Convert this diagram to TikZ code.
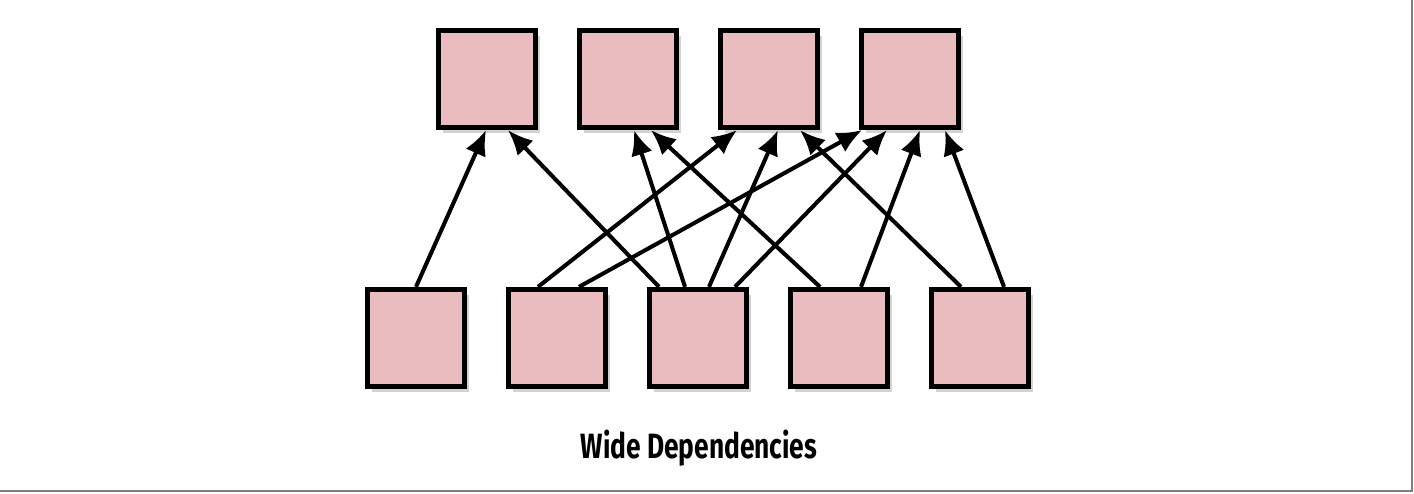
\documentclass[tikz,border=0pt]{standalone}
\usepackage{fontspec}
\newfontfamily\captionfont[FakeStretch=0.75]{Fira Sans}
\usetikzlibrary{arrows.meta,positioning,shadows}
\definecolor{partpink}{HTML}{EBBCBF}
\definecolor{framegray}{HTML}{808080}

\begin{document}
\begin{tikzpicture}
  [node distance=2.82cm,on grid,>={Latex[length=5mm,width=4.4mm]},
  partition/.style={draw=black,line width=2.7pt,fill=partpink,minimum size=1.95cm,
    drop shadow={shadow xshift=0.9mm,shadow yshift=-1.1mm,opacity=0.35}},
  dependency/.style={->,line width=2.3pt}]
  \useasboundingbox (0,0) rectangle (28.28,-9.88);
  % parent partitions
  \node[partition] (t1) at (9.74,-1.58) {};
  \node[partition] (t2) [right=of t1] {};
  \node[partition] (t3) [right=of t2] {};
  \node[partition] (t4) [right=of t3] {};
  % child partitions
  \node[partition] (b1) [below left=5.18cm and 1.42cm of t1] {};
  \node[partition] (b2) [right=of b1] {};
  \node[partition] (b3) [right=of b2] {};
  \node[partition] (b4) [right=of b3] {};
  \node[partition] (b5) [right=of b4] {};
  % wide dependencies
  \draw[dependency] (b1.north) -- ([xshift=-0.02cm]t1.south);
  \draw[dependency] ([xshift=-0.78cm]b3.north) -- ([xshift=0.42cm]t1.south);
  \draw[dependency] ([xshift=-0.26cm]b3.north) -- ([xshift=0.12cm]t2.south);
  \draw[dependency] ([xshift=-0.38cm]b4.north) -- ([xshift=0.46cm]t2.south);
  \draw[dependency] ([xshift=-0.38cm]b2.north) -- ([xshift=-0.64cm]t3.south);
  \draw[dependency] ([xshift=0.22cm]b3.north) -- ([xshift=0.18cm]t3.south);
  \draw[dependency] ([xshift=-0.38cm]b5.north) -- ([xshift=0.62cm]t3.south);
  \draw[dependency] ([xshift=0.44cm]b2.north) -- ([xshift=-0.96cm]t4.south);
  \draw[dependency] ([xshift=0.74cm]b3.north) -- ([xshift=-0.46cm]t4.south);
  \draw[dependency] ([xshift=0.44cm]b4.north) -- ([xshift=0.2cm]t4.south);
  \draw[dependency] ([xshift=0.48cm]b5.north) -- ([xshift=0.7cm]t4.south);
  \node (title) [anchor=base,font=\captionfont\bfseries\fontsize{20}{24}\selectfont]
    at (13.98,-9.18) {Wide Dependencies};
  \draw[framegray,line width=1.4pt] (28.24,0) -- (28.24,-9.82) -- (0,-9.82);
\end{tikzpicture}
\end{document}
